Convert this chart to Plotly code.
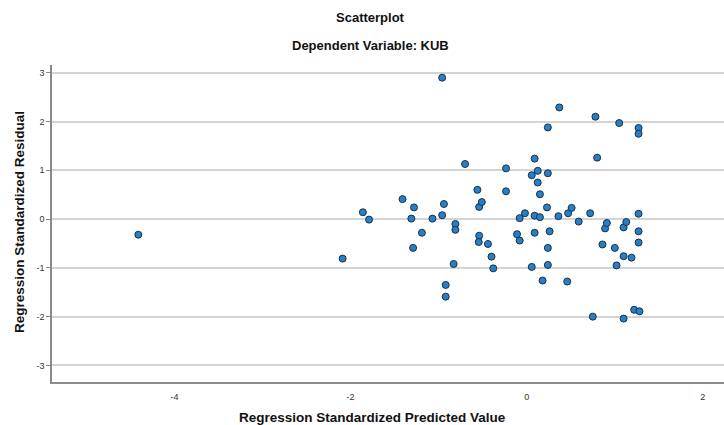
import plotly.graph_objects as go

# Standardized predicted values (x) and standardized residuals (y)
pred = [-4.41, -2.09, -1.86, -1.79, -1.41, -1.28, -1.31, -1.29, -1.19, -1.07,
        -0.96, -0.94, -0.96, -0.92, -0.92, -0.83, -0.81, -0.81, -0.70, -0.56,
        -0.54, -0.51, -0.54, -0.545, -0.44, -0.40, -0.38, -0.235, -0.235, -0.11,
        -0.08, -0.08, -0.02, 0.057, 0.057, 0.09, 0.09, 0.09, 0.125, 0.125,
        0.15, 0.15, 0.18, 0.23, 0.24, 0.24, 0.26, 0.24, 0.24, 0.36,
        0.37, 0.46, 0.47, 0.51, 0.59, 0.72, 0.75, 0.78, 0.80, 0.86,
        0.89, 0.91, 1.00, 1.02, 1.05, 1.10, 1.10, 1.10, 1.13, 1.19,
        1.22, 1.27, 1.27, 1.27, 1.27, 1.27, 1.28]
resid = [-0.32, -0.81, 0.14, -0.01, 0.41, 0.24, 0.01, -0.59, -0.28, 0.01,
         0.08, 0.31, 2.90, -1.35, -1.59, -0.92, -0.10, -0.22, 1.13, 0.60,
         0.25, 0.35, -0.34, -0.47, -0.51, -0.77, -1.01, 1.04, 0.57, -0.31,
         -0.44, 0.02, 0.12, 0.90, -0.98, 1.24, 0.07, -0.28, 0.99, 0.75,
         0.51, 0.04, -1.26, 0.24, 1.88, 0.94, -0.25, -0.59, -0.94, 0.06,
         2.29, -1.28, 0.12, 0.23, -0.05, 0.12, -2.00, 2.10, 1.26, -0.52,
         -0.19, -0.08, -0.59, -0.95, 1.97, -0.17, -0.76, -2.04, -0.06, -0.79,
         -1.86, 1.87, 1.75, 0.11, -0.25, -0.48, -1.89]

x_ticks = [-4, -2, 0, 2]
y_ticks = [-3, -2, -1, 0, 1, 2, 3]

FONT = "Liberation Sans, Arial, sans-serif"
W, H = 724, 425
L, R, T, B = 52, 0, 65, 43
PW, PH = W - L - R, H - T - B


def px_x(px):
    return (px - L) / PW


def px_y(py):
    return (H - B - py) / PH


fig = go.Figure()
fig.add_trace(go.Scatter(
    x=pred, y=resid, mode="markers",
    marker=dict(size=7, color="#2680c8", line=dict(width=1, color="#1b2f45")),
    showlegend=False, hoverinfo="x+y",
))

fig.update_layout(
    width=W, height=H,
    margin=dict(l=L, r=R, t=T, b=B, autoexpand=False),
    paper_bgcolor="white", plot_bgcolor="white",
    font=dict(family=FONT, color="#222"),
)

texts = [
    ("<b>Scatterplot</b>", 370, 17, 13, 0),
    ("<b>Dependent Variable: KUB</b>", 370, 46, 13, 0),
    ("<b>Regression Standardized Predicted Value</b>", 372, 417, 13.5, 0),
    ("<b>Regression Standardized Residual</b>", 19, 222, 13.5, -90),
]
for txt, x, y, sz, ang in texts:
    fig.add_annotation(text=txt, xref="paper", yref="paper", x=px_x(x), y=px_y(y),
                       xanchor="center", yanchor="middle", showarrow=False,
                       textangle=ang, font=dict(size=sz, family=FONT, color="#111"))

fig.update_xaxes(
    range=[-5.39, 2.24], tickvals=x_ticks, ticktext=[str(v) for v in x_ticks],
    showgrid=False, zeroline=False, showline=True, linecolor="#8a8a8a", linewidth=1.5,
    ticks="", tickfont=dict(size=9, color="#333"), ticklabelstandoff=5, automargin=False,
)
fig.update_yaxes(
    range=[-3.34, 3.16], tickvals=y_ticks, ticktext=[str(v) for v in y_ticks],
    showgrid=True, gridcolor="#d4d4d4", gridwidth=1.5, zeroline=False,
    showline=True, linecolor="#8a8a8a", linewidth=1.5,
    ticks="outside", ticklen=4, tickcolor="#8a8a8a", tickfont=dict(size=9, color="#333"),
    automargin=False,
)

fig.write_html("out.html", config={"displayModeBar": False},
               post_script="document.body.style.margin='0px';document.body.style.overflow='hidden';")
